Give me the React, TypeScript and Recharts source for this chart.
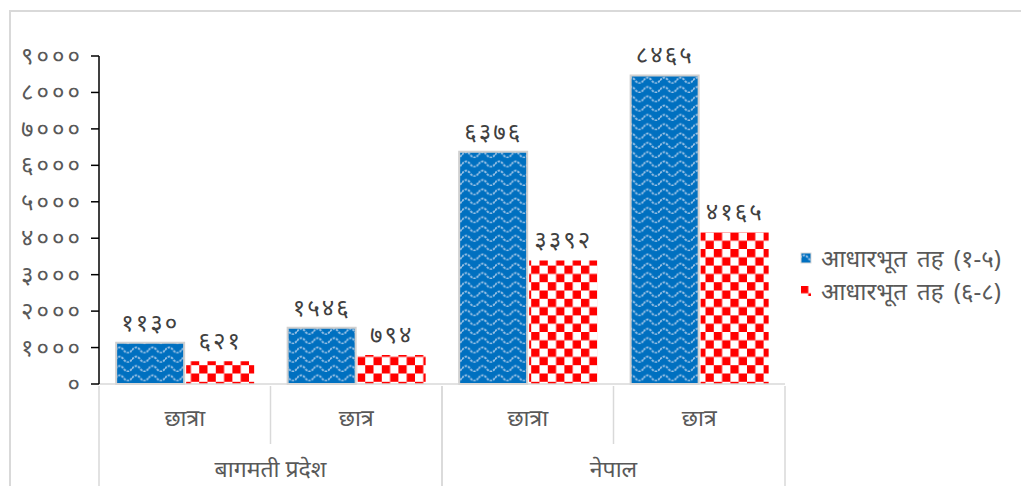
import React from 'react';
import { BarChart, Bar, XAxis, YAxis, LabelList } from 'recharts';

const categories = ['छात्रा', 'छात्र', 'छात्रा', 'छात्र'];
const groups = ['बागमती प्रदेश', 'बागमती प्रदेश', 'नेपाल', 'नेपाल'];
const basic15 = [1130, 1546, 6376, 8465];
const basic68 = [621, 794, 3392, 4165];
const yTicks = [0, 1000, 2000, 3000, 4000, 5000, 6000, 7000, 8000, 9000];
const seriesNames = ['आधारभूत तह (१-५)', 'आधारभूत तह (६-८)'];

const data = categories.map((c, i) => ({
  cat: c,
  group: groups[i],
  a: basic15[i],
  b: basic68[i],
}));

const W = 1021;
const H = 486;
const M = { top: 56, right: 236, left: 10, bottom: 0 };
const Y_W = 89;
const X_H = 102;
const plotW = W - M.left - Y_W - M.right;
const band = plotW / categories.length;

const DEV = ['०', '१', '२', '३', '४', '५', '६', '७', '८', '९'];
const toDev = (n: number | string) => String(n).replace(/[0-9]/g, (d) => DEV[+d]);

const FONT = '"Noto Sans", "DejaVu Sans", sans-serif';
const GRID = '#d9d9d9';

const CatTick = (props: any) => {
  const { x, y, payload, index } = props;
  const left = x - band / 2;
  const right = x + band / 2;
  const isGroupStart = index === 0 || groups[index] !== groups[index - 1];
  const isGroupEnd = index === groups.length - 1 || groups[index] !== groups[index + 1];
  return (
    <g>
      <line x1={left} x2={left} y1={y} y2={isGroupStart ? y + X_H : y + 58} stroke={GRID} strokeWidth={1.5} />
      {isGroupEnd && <line x1={right} x2={right} y1={y} y2={y + X_H} stroke={GRID} strokeWidth={1.5} />}
      <text x={x} y={y + 40} textAnchor="middle" fill="#595959" fontSize={23} fontFamily={FONT}>
        {payload.value}
      </text>
      {isGroupEnd && !isGroupStart && (
        <text x={left} y={y + 91} textAnchor="middle" fill="#595959" fontSize={23} fontFamily={FONT}>
          {groups[index]}
        </text>
      )}
    </g>
  );
};

const YTick = (props: any) => {
  const { x, y, payload } = props;
  return (
    <text x={x - 6} y={y} dy={8} textAnchor="end" fill="#595959" fontSize={24} letterSpacing={3} fontFamily={FONT}>
      {toDev(payload.value)}
    </text>
  );
};

const Legend = () => (
  <div style={{ position: 'absolute', left: 800, top: 241, fontFamily: FONT, fontSize: 24, color: '#595959', lineHeight: '33px', wordSpacing: 4 }}>
    {seriesNames.map((name, i) => (
      <div key={name} style={{ display: 'flex', alignItems: 'center', whiteSpace: 'pre' }}>
        <svg width={12} height={12} style={{ marginRight: 9 }}>
          <rect x={1} y={1} width={10} height={10} fill={i === 0 ? 'url(#wave)' : 'url(#checker)'} stroke={i === 0 ? GRID : 'none'} />
        </svg>
        {name}
      </div>
    ))}
  </div>
);

export default function App() {
  return (
    <div style={{ position: 'absolute', left: 0, top: 0, width: W, height: H, overflow: 'hidden', background: '#fff' }}>
      <div style={{ position: 'absolute', left: 9, top: 10, width: W + 100, height: H + 100, border: `2px solid ${GRID}` }} />
      <svg width={0} height={0} style={{ position: 'absolute' }}>
        <defs>
          <pattern id="wave" width={16.5} height={9.3} patternUnits="userSpaceOnUse">
            <rect width={16.5} height={9.3} fill="#0070c0" />
            <path d="M0 6 Q4.1 0.6 8.25 6 T16.5 6" fill="none" stroke="#9dc3e6" strokeWidth={1.8} strokeDasharray="2.5 1" />
          </pattern>
          <pattern id="checker" width={16.6} height={16.6} patternUnits="userSpaceOnUse">
            <rect width={16.6} height={16.6} fill="#ffffff" />
            <rect x={0} y={0} width={8.3} height={8.3} fill="#ff0000" />
            <rect x={8.3} y={8.3} width={8.3} height={8.3} fill="#ff0000" />
          </pattern>
        </defs>
      </svg>
      <div style={{ position: 'absolute', left: 0, top: 0 }}>
        <BarChart width={W} height={H} data={data} margin={M} barCategoryGap="10%" barGap={2}>
          <XAxis
            dataKey="cat"
            height={X_H}
            axisLine={{ stroke: GRID, strokeWidth: 1.5 }}
            tickLine={false}
            tickSize={0}
            tick={<CatTick />}
            interval={0}
          />
          <YAxis
            width={Y_W}
            domain={[0, 9000]}
            ticks={yTicks}
            interval={0}
            axisLine={{ stroke: '#000', strokeWidth: 1.5 }}
            tickLine={{ stroke: '#000', strokeWidth: 1.5 }}
            tickSize={8}
            tick={<YTick />}
          />
          <Bar dataKey="a" name={seriesNames[0]} fill="url(#wave)" stroke="#d0d0d0" strokeWidth={2} isAnimationActive={false}>
            <LabelList dataKey="a" position="top" offset={12} fill="#404040" fontSize={24} letterSpacing={2} fontFamily={FONT} formatter={(v: any) => toDev(v)} />
          </Bar>
          <Bar dataKey="b" name={seriesNames[1]} fill="url(#checker)" isAnimationActive={false}>
            <LabelList dataKey="b" position="top" offset={12} fill="#404040" fontSize={24} letterSpacing={2} fontFamily={FONT} formatter={(v: any) => toDev(v)} />
          </Bar>
        </BarChart>
      </div>
      <Legend />
    </div>
  );
}
